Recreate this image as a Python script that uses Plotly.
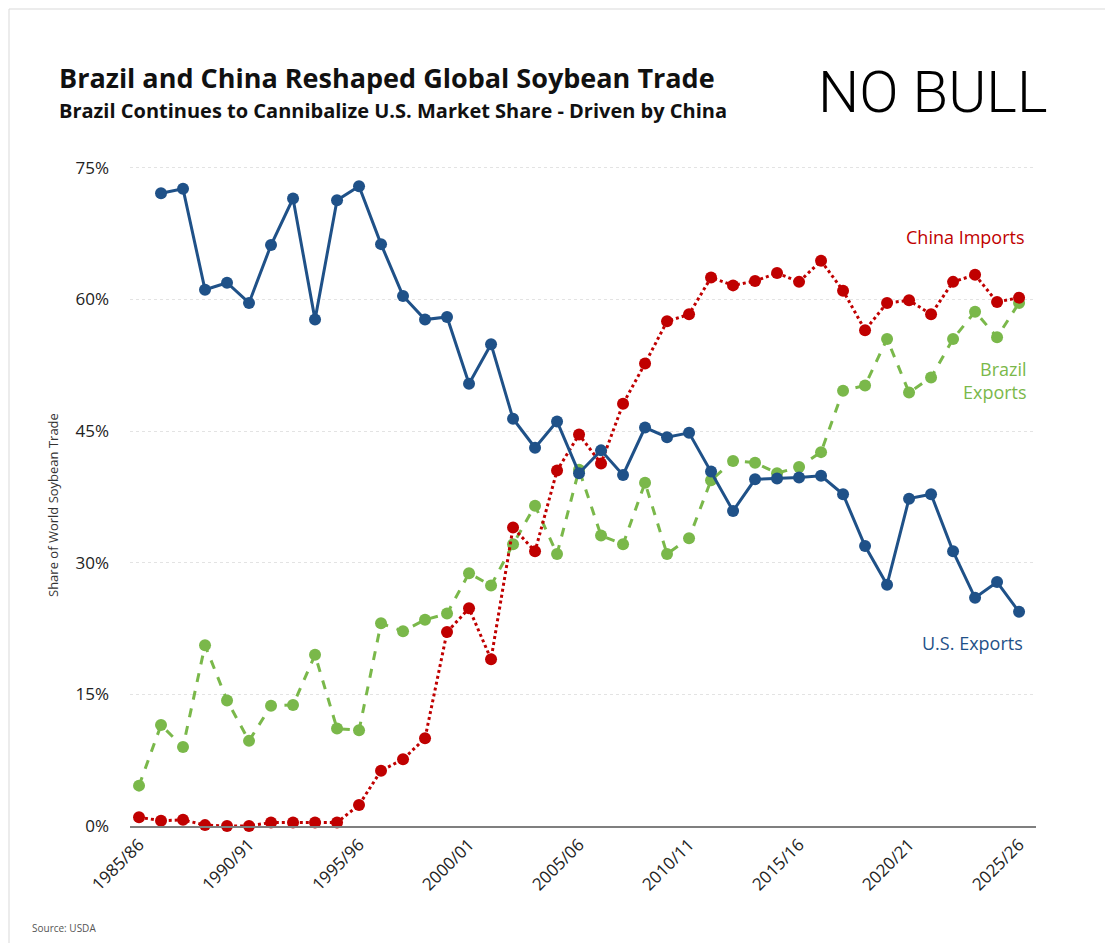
import plotly.graph_objects as go

years = [f"{y}/{str(y + 1)[-2:]}" for y in range(1985, 2026)]

us_exports = [None, 72.1, 72.6, 61.1, 61.9, 59.6, 66.2, 71.5, 57.7, 71.3,
              72.9, 66.3, 60.4, 57.7, 58.0, 50.4, 54.9, 46.4, 43.1, 46.1,
              40.2, 42.8, 40.0, 45.4, 44.3, 44.8, 40.4, 35.9, 39.5, 39.6,
              39.7, 39.9, 37.8, 31.9, 27.5, 37.3, 37.8, 31.3, 26.0, 27.8, 24.4]

china_imports = [1.0, 0.6, 0.7, 0.1, 0.0, 0.0, 0.4, 0.4, 0.4, 0.4,
                 2.4, 6.3, 7.6, 10.0, 22.1, 24.8, 19.0, 34.0, 31.3, 40.5,
                 44.6, 41.3, 48.1, 52.7, 57.5, 58.3, 62.5, 61.6, 62.1, 63.0,
                 62.0, 64.4, 61.0, 56.5, 59.6, 59.9, 58.3, 62.0, 62.8, 59.7, 60.2]

brazil_exports = [4.6, 11.5, 9.0, 20.6, 14.3, 9.7, 13.7, 13.8, 19.5, 11.1,
                  10.9, 23.1, 22.2, 23.5, 24.2, 28.8, 27.4, 32.1, 36.5, 31.0,
                  40.6, 33.1, 32.1, 39.1, 31.0, 32.8, 39.4, 41.6, 41.4, 40.2,
                  40.9, 42.6, 49.6, 50.2, 55.5, 49.4, 51.1, 55.5, 58.6, 55.7, 59.6]

tick_years = ["1985/86", "1990/91", "1995/96", "2000/01", "2005/06",
              "2010/11", "2015/16", "2020/21", "2025/26"]
y_ticks = [0, 15, 30, 45, 60, 75]

BLUE = "#1f5188"
RED = "#c00000"
GREEN = "#7ab84a"
FONT = "Open Sans"

W, H = 1105, 943
ML, MR, MT, MB = 130, 69, 159, 117
PW, PH = W - ML - MR, H - MT - MB


def px(x):
    return (x - ML) / PW


def py(y):
    return (H - MB - y) / PH


fig = go.Figure()
fig.add_trace(go.Scatter(x=years, y=brazil_exports, mode="lines+markers", name="Brazil Exports",
                         line=dict(color=GREEN, width=3, dash="dash"),
                         marker=dict(color=GREEN, size=12), cliponaxis=False))
fig.add_trace(go.Scatter(x=years, y=china_imports, mode="lines+markers", name="China Imports",
                         line=dict(color=RED, width=3, dash="dot"),
                         marker=dict(color=RED, size=12), cliponaxis=False))
fig.add_trace(go.Scatter(x=years, y=us_exports, mode="lines+markers", name="U.S. Exports",
                         line=dict(color=BLUE, width=3),
                         marker=dict(color=BLUE, size=12), cliponaxis=False))

fig.update_layout(
    width=W, height=H,
    margin=dict(l=ML, r=MR, t=MT, b=MB),
    paper_bgcolor="white", plot_bgcolor="white",
    showlegend=False,
    font=dict(family=FONT, color="#222222"),
    xaxis=dict(type="category", range=[-0.41, 40.77], tickvals=tick_years,
               tickangle=-45, tickfont=dict(size=17, color="#222222"),
               showgrid=False, showline=True, linecolor="#7f7f7f", linewidth=2,
               ticks="", zeroline=False),
    yaxis=dict(range=[0, 76], tickvals=y_ticks, ticktext=[f"{v}%" for v in y_ticks],
               tickfont=dict(size=17, color="#222222"),
               showgrid=True, gridcolor="#e3e3e3", griddash="dot", gridwidth=1,
               zeroline=False, ticklabelstandoff=20),
)

annotations = [
    dict(text="<b>Brazil and China Reshaped Global Soybean Trade</b>", x=57, y=77,
         font=dict(size=27, color="#111111")),
    dict(text="<b>Brazil Continues to Cannibalize U.S. Market Share - Driven by China</b>", x=57, y=111,
         font=dict(size=20, color="#111111")),
    dict(text="Source: USDA", x=30, y=928, font=dict(size=10, color="#555555")),
]
for a in annotations:
    fig.add_annotation(xref="paper", yref="paper", x=px(a["x"]), y=py(a["y"]),
                       text=a["text"], showarrow=False, xanchor="left", yanchor="middle",
                       font=dict(family=FONT, **a["font"]))

fig.add_annotation(xref="paper", yref="paper", x=px(53), y=py(505), text="Share of World Soybean Trade",
                   textangle=-90, showarrow=False, xanchor="center", yanchor="middle",
                   font=dict(family=FONT, size=13, color="#333333"))

labels = [
    ("China Imports", 1027, 237, RED),
    ("Brazil<br>Exports", 1029, 380, GREEN),
    ("U.S. Exports", 1025, 643, BLUE),
]
for text, x, y, c in labels:
    fig.add_annotation(xref="paper", yref="paper", x=px(x), y=py(y), text=text,
                       showarrow=False, xanchor="right", yanchor="middle", align="right",
                       font=dict(family=FONT, size=18, color=c))

fig.add_annotation(xref="paper", yref="paper", x=px(1050), y=py(92), text="NO BULL",
                   showarrow=False, xanchor="right", yanchor="middle",
                   font=dict(family="Roboto", size=58, color="#000000", weight=300))

fig.add_shape(type="rect", xref="paper", yref="paper", x0=px(9), x1=px(1120), y0=py(960), y1=py(9),
              line=dict(color="#d9d9d9", width=1), fillcolor="rgba(0,0,0,0)", layer="below")

fig.write_html("out.html")
